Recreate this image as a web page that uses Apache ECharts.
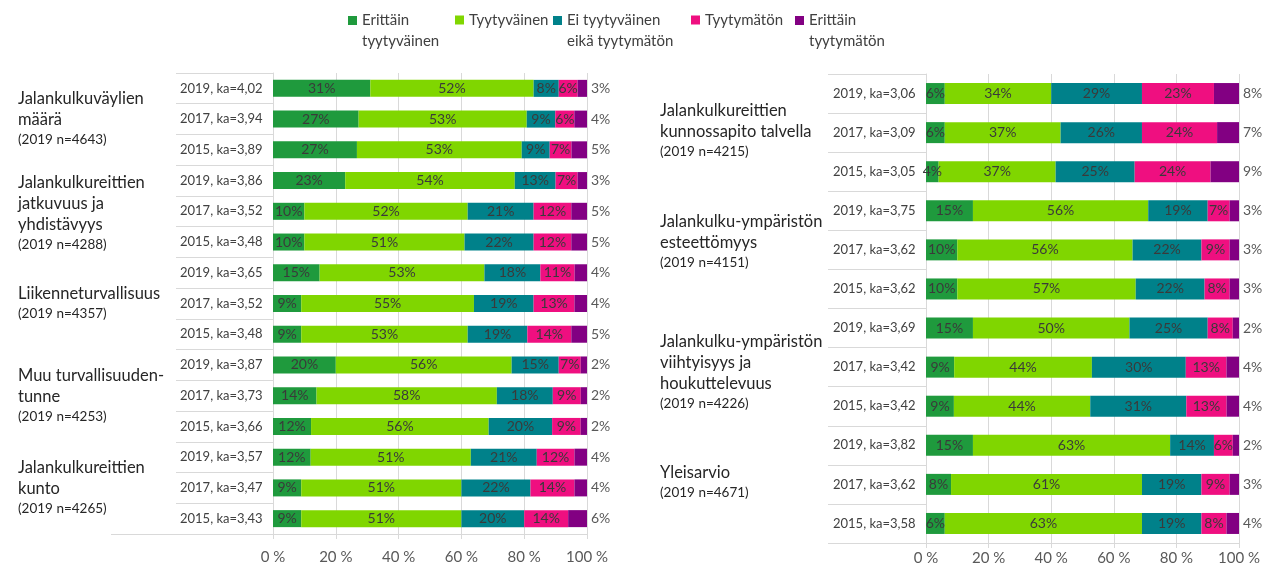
<!DOCTYPE html>
<html>
<head>
<meta charset="utf-8">
<script src="https://cdn.jsdelivr.net/npm/echarts@6/dist/echarts.min.js"></script>
<style>
  html, body { margin: 0; padding: 0; background: #fff; }
  #main { width: 1275px; height: 574px; }
</style>
</head>
<body>
<div id="main"></div>
<script>
// vastausvaihtoehdot
const seriesNames = ['Erittäin\ntyytyväinen', 'Tyytyväinen', 'Ei tyytyväinen\neikä tyytymätön', 'Tyytymätön', 'Erittäin\ntyytymätön'];
const colors = ['#1f9a3d', '#80d600', '#00818a', '#ef0f80', '#820082'];
const tickLabels = ['0 %', '20 %', '40 %', '60 %', '80 %', '100 %'];

// vasen paneeli
const leftGroups = [
  'Jalankulkuväylien\nmäärä\n{n|(2019 n=4643)}',
  'Jalankulkureittien\njatkuvuus ja\nyhdistävyys\n{n|(2019 n=4288)}',
  'Liikenneturvallisuus\n{n|(2019 n=4357)}',
  'Muu turvallisuuden-\ntunne\n{n|(2019 n=4253)}',
  'Jalankulkureittien\nkunto\n{n|(2019 n=4265)}'
];
const leftCategories = [
  '2019, ka=4,02', '2017, ka=3,94', '2015, ka=3,89',
  '2019, ka=3,86', '2017, ka=3,52', '2015, ka=3,48',
  '2019, ka=3,65', '2017, ka=3,52', '2015, ka=3,48',
  '2019, ka=3,87', '2017, ka=3,73', '2015, ka=3,66',
  '2019, ka=3,57', '2017, ka=3,47', '2015, ka=3,43'
];
const leftVerySatisfied = [31, 27, 27, 23, 10, 10, 15, 9, 9, 20, 14, 12, 12, 9, 9];
const leftSatisfied = [52, 53, 53, 54, 52, 51, 53, 55, 53, 56, 58, 56, 51, 51, 51];
const leftNeutral = [8, 9, 9, 13, 21, 22, 18, 19, 19, 15, 18, 20, 21, 22, 20];
const leftDissatisfied = [6, 6, 7, 7, 12, 12, 11, 13, 14, 7, 9, 9, 12, 14, 14];
const leftVeryDissatisfied = [3, 4, 5, 3, 5, 5, 4, 4, 5, 2, 2, 2, 4, 4, 6];

// oikea paneeli
const rightGroups = [
  'Jalankulkureittien\nkunnossapito talvella\n{n|(2019 n=4215)}',
  'Jalankulku-ympäristön\nesteettömyys\n{n|(2019 n=4151)}',
  'Jalankulku-ympäristön\nviihtyisyys ja\nhoukuttelevuus\n{n|(2019 n=4226)}',
  'Yleisarvio\n{n|(2019 n=4671)}'
];
const rightCategories = [
  '2019, ka=3,06', '2017, ka=3,09', '2015, ka=3,05',
  '2019, ka=3,75', '2017, ka=3,62', '2015, ka=3,62',
  '2019, ka=3,69', '2017, ka=3,42', '2015, ka=3,42',
  '2019, ka=3,82', '2017, ka=3,62', '2015, ka=3,58'
];
const rightVerySatisfied = [6, 6, 4, 15, 10, 10, 15, 9, 9, 15, 8, 6];
const rightSatisfied = [34, 37, 37, 56, 56, 57, 50, 44, 44, 63, 61, 63];
const rightNeutral = [29, 26, 25, 19, 22, 22, 25, 30, 31, 14, 19, 19];
const rightDissatisfied = [23, 24, 24, 7, 9, 8, 8, 13, 13, 6, 9, 8];
const rightVeryDissatisfied = [8, 7, 9, 3, 3, 3, 2, 4, 4, 2, 3, 4];

const chart = echarts.init(document.getElementById('main'));
const font = 'Lato, "Noto Sans", sans-serif';
const gray = '#d9d9d9';

const panels = [
  { cats: leftCategories, groups: leftGroups, values: [leftVerySatisfied, leftSatisfied, leftNeutral, leftDissatisfied, leftVeryDissatisfied],
    grid: { left: 273, top: 73, width: 314, height: 461 }, barWidth: 17, labelMargin: 16, tick: 97, groupX: 18,
    groupShift: [0, 2, 0, 0, 0] },
  { cats: rightCategories, groups: rightGroups, values: [rightVerySatisfied, rightSatisfied, rightNeutral, rightDissatisfied, rightVeryDissatisfied],
    grid: { left: 926, top: 74, width: 313, height: 469 }, barWidth: 21, labelMargin: 8, tick: 98, groupX: 660,
    groupShift: [-2, -8, 5, -2] }
];

const grids = [], xAxes = [], yAxes = [], series = [], graphics = [];
panels.forEach((p, pi) => {
  grids.push(p.grid);
  xAxes.push({
    gridIndex: pi, type: 'value', min: 0, max: 100, interval: 20,
    axisLine: { show: true, lineStyle: { color: gray } },
    axisTick: { show: true, length: 5, lineStyle: { color: gray } },
    splitLine: { show: true, lineStyle: { color: gray } },
    axisLabel: { formatter: v => tickLabels[v / 20], fontFamily: font, fontSize: 15, color: '#595959', margin: p.labelMargin }
  });
  yAxes.push({
    gridIndex: pi, type: 'category', inverse: true, data: p.cats,
    axisLine: { show: true, lineStyle: { color: gray } },
    axisTick: { show: true, length: p.tick, lineStyle: { color: gray } },
    axisLabel: { align: 'left', margin: 93, fontFamily: font, fontSize: 13, color: '#404040' }
  });
  const sums = p.cats.map((c, i) => p.values.reduce((s, arr) => s + arr[i], 0));
  p.values.forEach((arr, k) => {
    const last = k === p.values.length - 1;
    series.push({
      name: seriesNames[k], type: 'bar', stack: 'p' + pi,
      xAxisIndex: pi, yAxisIndex: pi, barWidth: p.barWidth,
      itemStyle: { color: colors[k] },
      data: arr.map((v, i) => v / sums[i] * 100),
      label: {
        show: true, position: last ? 'right' : 'inside', distance: 4,
        formatter: prm => arr[prm.dataIndex] + '%',
        fontFamily: font, fontSize: 14, color: last ? '#595959' : '#3a3a3a'
      }
    });
  });
  // ryhmien nimet
  const rowH = p.grid.height / p.cats.length;
  p.groups.forEach((g, gi) => {
    graphics.push({
      type: 'text', x: p.groupX, y: p.grid.top + rowH * (gi * 3 + 1.5) + p.groupShift[gi],
      style: {
        text: g, fill: '#262626', font: '16.5px ' + font, lineHeight: 21,
        verticalAlign: 'middle',
        rich: { n: { fontSize: 13.5, fontFamily: font, lineHeight: 19, fill: '#262626' } }
      }
    });
  });
});

// vasemman paneelin pohjaviivan jatke
graphics.push({ type: 'line', shape: { x1: 111, y1: 534.5, x2: 176, y2: 534.5 }, style: { stroke: gray, lineWidth: 1 } });

// selite: kuvake ensimmäisen rivin kohdalle
const legendX = [348, 455, 553, 691, 795];
const legends = seriesNames.map((n, k) => {
  const multi = n.indexOf('\n') >= 0;
  return {
    data: [n], left: legendX[k], top: multi ? -11 : 9.5, padding: 0,
    itemWidth: 9, itemHeight: 9, icon: 'rect',
    formatter: name => (multi ? '\n' : '') + name,
    textStyle: { fontFamily: font, fontSize: 15, color: '#404040', lineHeight: 21 }
  };
});

chart.setOption({
  animation: false,
  legend: legends,
  grid: grids,
  xAxis: xAxes,
  yAxis: yAxes,
  series: series,
  graphic: graphics
});
</script>
</body>
</html>
